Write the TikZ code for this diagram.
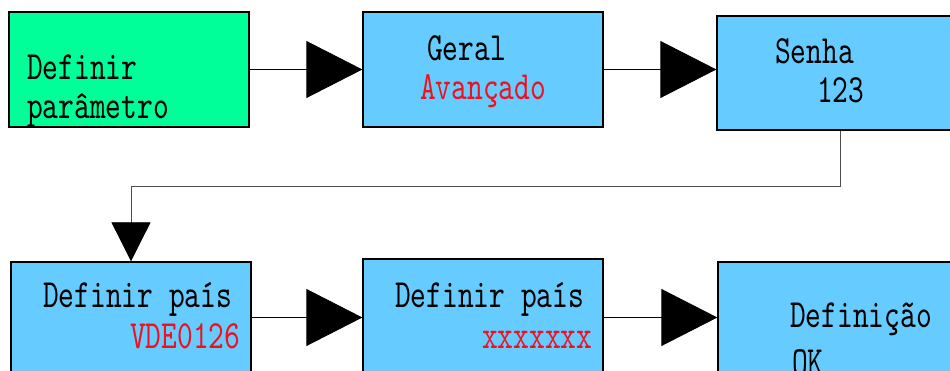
\documentclass[tikz,border=0pt]{standalone}
\usepackage{fontspec}
\setmonofont{lmmono10-regular.otf}[FakeStretch=0.75]
\usetikzlibrary{arrows.meta}

\definecolor{verde}{HTML}{00FF99}
\definecolor{azul}{HTML}{66CCFF}
\definecolor{vermelho}{HTML}{F01020}

\begin{document}
\begin{tikzpicture}[x=1pt, y=-1pt,
    caixa/.style={draw=black, line width=1.3pt, fill=azul, inner sep=0pt},
    texto/.style={anchor=base west, inner sep=0pt,
        font=\fontsize{40}{40}\selectfont\ttfamily},
    seta/.style={draw=black, line width=0.8pt, -{Triangle[length=56pt, width=57pt]}},
    setabaixo/.style={draw=black!70, line width=0.8pt, -{Triangle[length=39pt, width=39pt, color=black]}}]
    \useasboundingbox (0,0) rectangle (950,371);
    \clip (0,0) rectangle (950,371);

    % Caixas de cima
    \node[caixa, fill=verde, minimum width=240pt, minimum height=115pt] (param) at (129,69.5) {};
    \node[caixa, minimum width=240pt, minimum height=115pt] (geral) at (483,69.5) {};
    \node[caixa, minimum width=246pt, minimum height=114pt] (senha) at (840,73) {};

    % Caixas de baixo
    \node[caixa, minimum width=240pt, minimum height=111pt] (pais) at (131,317.5) {};
    \node[caixa, minimum width=240pt, minimum height=117pt] (paisx) at (483,317.5) {};
    \node[caixa, minimum width=240pt, minimum height=111pt] (ok) at (838,317.5) {};

    % Textos
    \node[texto] (t1a) at (27,80) {Definir};
    \node[texto] (t1b) at (27,119) {parâmetro};
    \node[texto] (t2a) at (427,61) {Geral};
    \node[texto, text=vermelho] (t2b) at (420,100) {Avançado};
    \node[texto] (t3a) at (775,64) {Senha};
    \node[texto] (t3b) at (817,103) {123};
    \node[texto] (t4a) at (43,308) {Definir país};
    \node[texto, text=vermelho] (t4b) at (130,348) {VDE0126};
    \node[texto] (t5a) at (395,307) {Definir país};
    \node[texto, text=vermelho] (t5b) at (482,348) {xxxxxxx};
    \node[texto] (t6a) at (790,327) {Definição};
    \node[texto] (t6b) at (792,374) {OK};

    % Setas
    \draw[seta] (param.east) -- (param.east -| geral.west);
    \draw[seta] (geral.east) -- (geral.east -| senha.west);
    \draw[setabaixo] (senha.south) -- ++(0,56) -| (pais.north);
    \draw[seta] (pais.east) -- (paisx.west);
    \draw[seta] (paisx.east) -- (ok.west);
\end{tikzpicture}
\end{document}
